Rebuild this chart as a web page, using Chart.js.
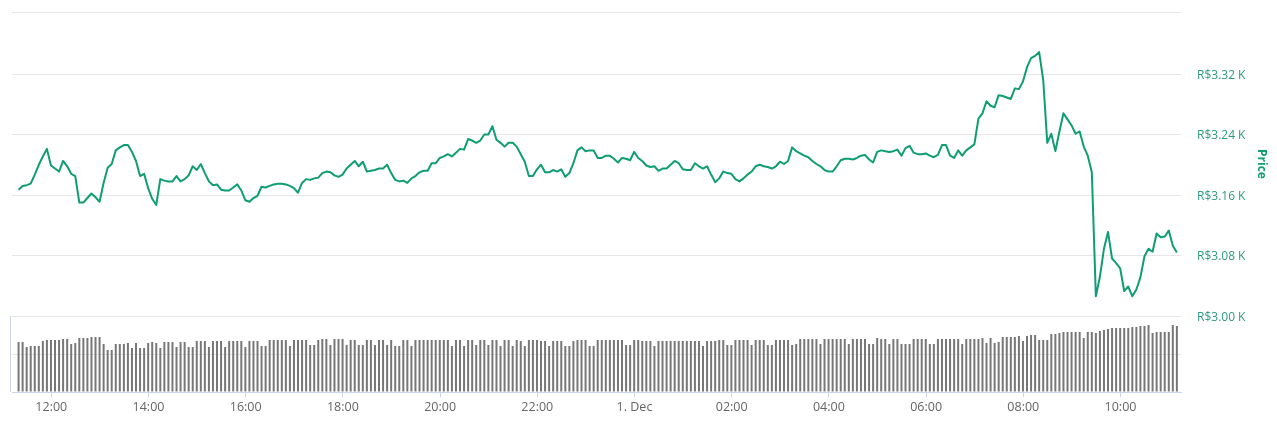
<!DOCTYPE html>
<html>
<head>
<meta charset="utf-8">
<title>Price</title>
<script src="https://cdn.jsdelivr.net/npm/chart.js@4"></script>
<style>
    html, body { margin: 0; padding: 0; background: #fff; }
    canvas { display: block; }
</style>
</head>
<body>
<canvas id="grafico" width="1277" height="432"></canvas>
<script>
// minuti dalle 12:00 del primo punto, poi un punto ogni 5 minuti
var firstMinute = -40.4;
var stepMinutes = 5;

var xTickMinutes = [0, 120, 240, 360, 480, 600, 720, 840, 960, 1080, 1200, 1320];
var xTickLabels = ['12:00', '14:00', '16:00', '18:00', '20:00', '22:00', '1. Dec', '02:00', '04:00', '06:00', '08:00', '10:00'];

var priceTicks = [3.0, 3.08, 3.16, 3.24, 3.32, 3.402];
var priceTickLabels = ['R$3.00 K', 'R$3.08 K', 'R$3.16 K', 'R$3.24 K', 'R$3.32 K', ''];

// prezzo in migliaia di R$
var prices = [
    3.167, 3.172, 3.173, 3.175, 3.187, 3.200, 3.211, 3.221, 3.199, 3.195,
    3.191, 3.205, 3.198, 3.188, 3.185, 3.150, 3.150, 3.156, 3.162, 3.157,
    3.151, 3.176, 3.196, 3.201, 3.219, 3.223, 3.226, 3.226, 3.217, 3.205,
    3.185, 3.188, 3.169, 3.155, 3.147, 3.181, 3.179, 3.178, 3.178, 3.185,
    3.178, 3.181, 3.186, 3.198, 3.193, 3.201, 3.189, 3.178, 3.173, 3.174,
    3.167, 3.166, 3.166, 3.170, 3.174, 3.166, 3.153, 3.151, 3.156, 3.159,
    3.171, 3.170, 3.172, 3.174, 3.175, 3.175, 3.174, 3.172, 3.169, 3.163,
    3.176, 3.181, 3.180, 3.182, 3.183,
    3.189, 3.191, 3.190, 3.186, 3.184, 3.187, 3.195, 3.200, 3.205, 3.198,
    3.204, 3.191, 3.192, 3.193, 3.195, 3.195, 3.200, 3.189, 3.180, 3.178,
    3.179, 3.176, 3.182, 3.185, 3.190, 3.192, 3.192, 3.202, 3.202, 3.209,
    3.211, 3.214, 3.211, 3.216, 3.221, 3.220, 3.234, 3.232, 3.229, 3.232,
    3.240, 3.240, 3.251, 3.233, 3.229, 3.224, 3.229, 3.229, 3.224, 3.214,
    3.204, 3.185, 3.185, 3.194, 3.200, 3.190, 3.190, 3.193, 3.191, 3.194,
    3.184, 3.189, 3.202, 3.219, 3.223, 3.218, 3.219, 3.219, 3.209, 3.209,
    3.212, 3.212, 3.208, 3.203, 3.209, 3.208, 3.206, 3.217, 3.209,
    3.205, 3.199, 3.197, 3.198, 3.192, 3.195, 3.195, 3.200, 3.205, 3.202,
    3.194, 3.193, 3.193, 3.202, 3.198, 3.195, 3.198, 3.187, 3.177, 3.182,
    3.191, 3.189, 3.188, 3.181, 3.178, 3.182, 3.187, 3.191, 3.198, 3.200,
    3.198, 3.197, 3.195, 3.198, 3.204, 3.201, 3.205, 3.223, 3.218, 3.215,
    3.212, 3.210, 3.205, 3.201, 3.198, 3.193, 3.191, 3.191, 3.198, 3.206,
    3.208, 3.208, 3.207, 3.209, 3.212, 3.213, 3.207, 3.203, 3.217, 3.219,
    3.218, 3.217, 3.218, 3.220, 3.212, 3.222, 3.225, 3.216, 3.214, 3.214,
    3.215, 3.212, 3.210, 3.213, 3.226, 3.226, 3.212, 3.209, 3.219,
    3.212, 3.219, 3.223, 3.227, 3.261, 3.268, 3.284, 3.278, 3.276, 3.292,
    3.291, 3.289, 3.287, 3.301, 3.300, 3.310, 3.329, 3.341, 3.344, 3.349,
    3.312, 3.229, 3.241, 3.218, 3.244, 3.268, 3.260, 3.252, 3.241, 3.244,
    3.224, 3.212, 3.190,
    3.026, 3.052, 3.089, 3.111, 3.076, 3.070, 3.063, 3.033, 3.039, 3.026,
    3.035, 3.051, 3.079, 3.089, 3.085, 3.109, 3.104, 3.105, 3.113, 3.093,
    3.084
];

var volumes = [
    50, 50, 45, 46, 46, 46, 51, 52, 52, 52, 52, 53, 53, 48, 49, 54, 54, 54, 55, 55,
    55, 48, 42, 42, 48, 48, 48, 49, 44, 49, 44, 44, 49, 50, 49, 44, 50, 50, 50, 45,
    50, 50, 45, 45, 51, 51, 51, 45, 51, 51, 51, 45, 51, 51, 51, 51, 45, 51, 51, 51,
    46, 46, 52, 52, 52, 52, 52, 46, 52, 52, 52, 52, 47, 47, 52,
    53, 53, 47, 53, 53, 53, 47, 52, 52, 47, 47, 52, 52, 47, 52, 52, 47, 52, 46, 46,
    52, 52, 46, 52, 52, 52, 52, 52, 52, 52, 52, 52, 46, 52, 52, 46, 52, 52, 47, 52,
    52, 47, 52, 52, 46, 52, 52, 46, 52, 51, 46, 52, 52, 52, 51, 51, 46, 51, 51, 51,
    46, 46, 51, 52, 52, 52, 46, 46, 52, 52, 52, 52, 52, 52, 52, 47, 47, 52, 52,
    51, 51, 51, 46, 51, 51, 51, 51, 51, 51, 51, 51, 51, 51, 51, 46, 51, 51, 51, 52,
    52, 47, 47, 52, 52, 52, 52, 47, 52, 52, 52, 47, 47, 52, 52, 52, 52, 47, 48, 53,
    53, 53, 53, 53, 48, 53, 53, 53, 53, 53, 53, 48, 53, 53, 53, 53, 48, 48, 54, 53,
    53, 48, 53, 53, 48, 48, 48, 53, 53, 53, 53, 48, 48, 53, 53, 53, 53, 53, 53,
    48, 53, 53, 53, 53, 54, 49, 54, 49, 50, 55, 55, 55, 55, 56, 51, 56, 57, 57, 52,
    52, 52, 58, 58, 59, 60, 60, 60, 60, 60, 54, 60, 60, 59, 61, 62, 63, 64, 64, 64,
    64, 64, 65, 65, 66, 66, 67, 59, 60, 60, 60, 60, 67, 66
];

var green = '#0f9d73';
var greenText = '#2f9a80';
var gridColor = '#e6e6e6';
var axisColor = '#ccd6eb';
var fontFamily = '"Open Sans", sans-serif';

function punti (valori) {
    return valori.map(function (v, i) {
        return { x: firstMinute + i * stepMinutes, y: v };
    });
}

// linea verticale a sinistra del pannello volumi
var lineaVolumi = {
    id: 'lineaVolumi',
    afterDraw: function (chart) {
        var s = chart.scales.yVol;
        var c = chart.ctx;
        c.save();
        c.strokeStyle = axisColor;
        c.lineWidth = 1;
        c.beginPath();
        c.moveTo(chart.chartArea.left - 1.5, s.top);
        c.lineTo(chart.chartArea.left - 1.5, s.bottom);
        c.stroke();
        c.restore();
    }
};

new Chart(document.getElementById('grafico'), {
    data: {
        datasets: [{
            type: 'line',
            label: 'Price',
            data: punti(prices),
            yAxisID: 'y',
            borderColor: green,
            borderWidth: 2,
            borderJoinStyle: 'round',
            pointRadius: 0,
            tension: 0,
            order: 1
        }, {
            type: 'bar',
            label: 'Volume',
            data: punti(volumes),
            yAxisID: 'yVol',
            backgroundColor: '#777777',
            barThickness: 2,
            inflateAmount: 0,
            order: 2
        }]
    },
    plugins: [lineaVolumi],
    options: {
        responsive: false,
        animation: false,
        layout: { padding: { left: 12, top: 12, right: 0, bottom: 0 } },
        plugins: {
            legend: { display: false },
            tooltip: { enabled: false }
        },
        scales: {
            x: {
                type: 'linear',
                offset: false,
                min: -48.5,
                max: 1394.7,
                afterBuildTicks: function (axis) {
                    axis.ticks = xTickMinutes.map(function (m) { return { value: m }; });
                },
                afterFit: function (axis) { axis.height = 40; },
                grid: { offset: false, drawOnChartArea: false, color: axisColor, tickLength: 5 },
                border: { color: axisColor },
                ticks: {
                    autoSkip: false,
                    maxRotation: 0,
                    color: '#666666',
                    padding: 3,
                    font: { family: fontFamily, size: 12.5 },
                    callback: function (value, index) { return xTickLabels[index]; }
                }
            },
            y: {
                position: 'right',
                stack: 'pannelli',
                stackWeight: 304,
                min: 3.0,
                max: 3.402,
                afterBuildTicks: function (axis) {
                    axis.ticks = priceTicks.map(function (v) { return { value: v }; });
                },
                afterFit: function (axis) {
                    axis.width = 96;
                    axis.paddingTop = 0;
                    axis.paddingBottom = 0;
                },
                grid: { color: gridColor, drawTicks: false },
                border: { display: false },
                ticks: {
                    padding: 16,
                    labelOffset: 1.5,
                    color: greenText,
                    font: { family: fontFamily, size: 12 },
                    callback: function (value, index) { return priceTickLabels[index]; }
                },
                title: {
                    display: true,
                    text: 'Price',
                    color: green,
                    padding: { top: 8, bottom: 0 },
                    font: { family: fontFamily, size: 12, weight: 'bold' }
                }
            },
            yVol: {
                position: 'right',
                stack: 'pannelli',
                stackWeight: 76,
                min: 0,
                max: 76,
                grid: { color: gridColor, drawTicks: false },
                border: { display: false },
                ticks: { display: false, stepSize: 38 }
            }
        }
    }
});
</script>
</body>
</html>
